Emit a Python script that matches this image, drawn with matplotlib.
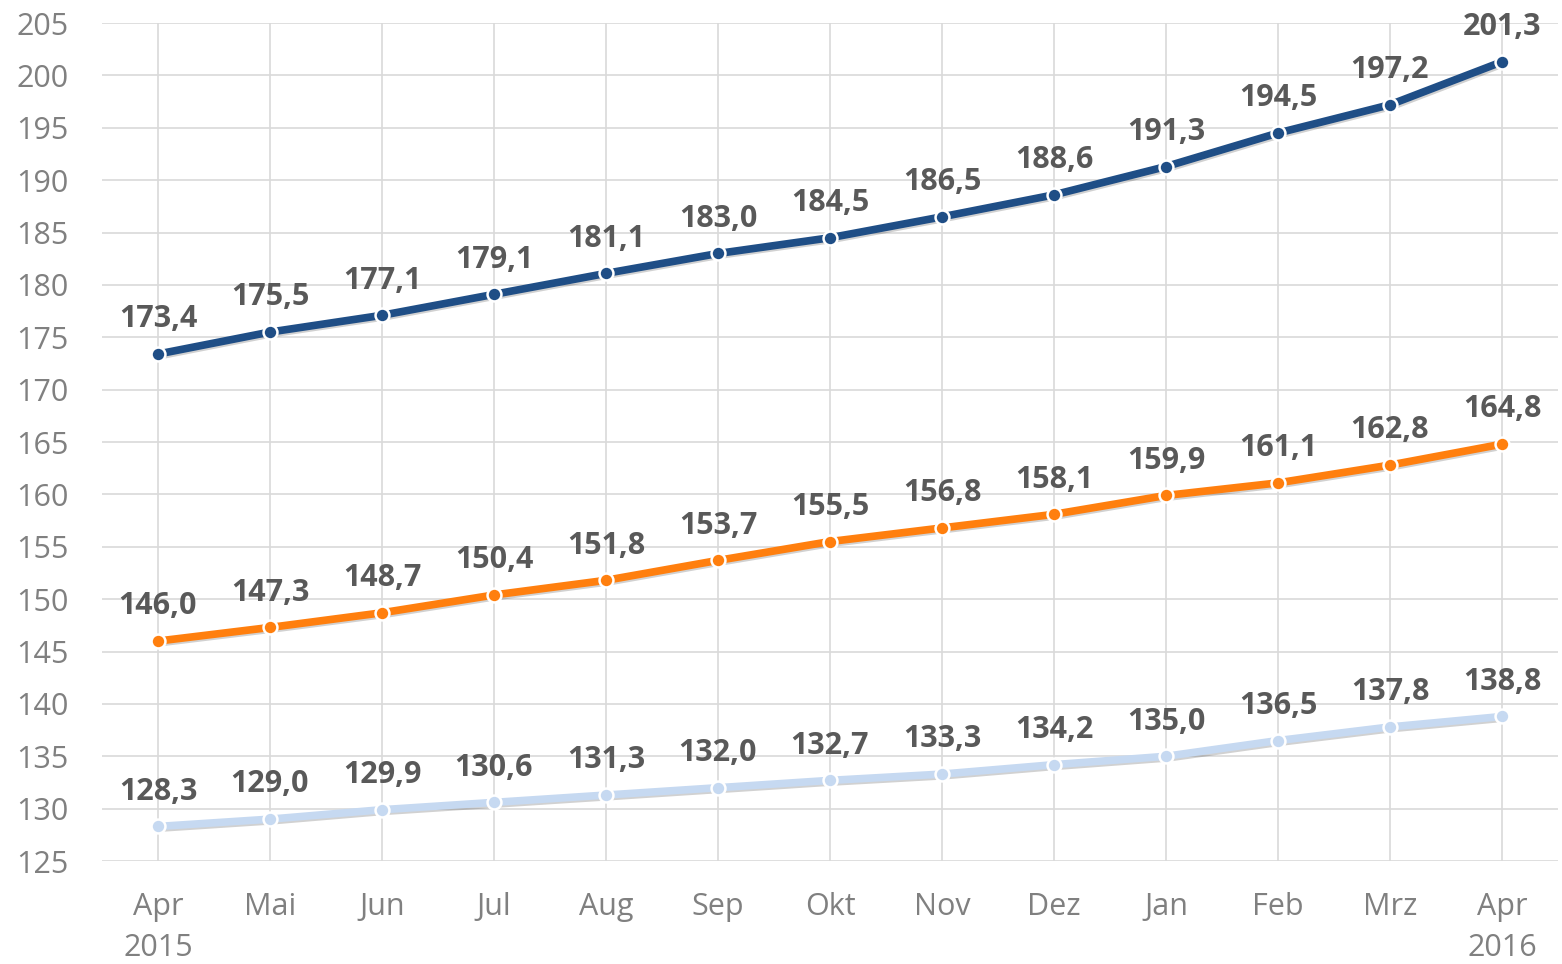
import matplotlib.pyplot as plt
import matplotlib.patheffects as pe

plt.rcParams['font.family'] = ['Open Sans', 'DejaVu Sans']

months = ["Apr\n2015", "Mai", "Jun", "Jul", "Aug", "Sep", "Okt", "Nov", "Dez",
          "Jan", "Feb", "Mrz", "Apr\n2016"]

top = [173.4, 175.5, 177.1, 179.1, 181.1, 183.0, 184.5, 186.5, 188.6,
       191.3, 194.5, 197.2, 201.3]
mid = [146.0, 147.3, 148.7, 150.4, 151.8, 153.7, 155.5, 156.8, 158.1,
       159.9, 161.1, 162.8, 164.8]
low = [128.3, 129.0, 129.9, 130.6, 131.3, 132.0, 132.7, 133.3, 134.2,
       135.0, 136.5, 137.8, 138.8]

series = [(top, "#1F4E86"), (mid, "#FF7F0E"), (low, "#C6D9F1")]

fig = plt.figure(figsize=(15.62, 9.64), dpi=100)
ax = fig.add_axes([0.0653, 0.1068, 0.9321, 0.8693])

x = list(range(len(months)))
shadow = [pe.SimpleLineShadow(offset=(1.2, -1.2), alpha=0.18), pe.Normal()]

for vals, col in series:
    ax.plot(x, vals, color=col, lw=5.5, solid_capstyle='round', zorder=3,
            path_effects=shadow)
    ax.plot(x, vals, 'o', color=col, ms=10, mec='white', mew=1.8, zorder=4)
    for xi, v in zip(x, vals):
        ax.annotate(f"{v:.1f}".replace('.', ','), (xi, v), xytext=(0, 25),
                    textcoords='offset points', ha='center', va='center',
                    fontsize=22, fontweight='bold', color='#595959', zorder=5)

ax.set_xlim(-0.5, 12.5)
ax.set_ylim(125, 205)
ax.set_yticks(range(125, 206, 5))
ax.set_xticks(x)
ax.set_xticklabels(months, linespacing=1.5)
ax.grid(True, color='#D9D9D9', lw=1.2, zorder=0)
ax.set_axisbelow(True)
for s in ax.spines.values():
    s.set_visible(False)
ax.tick_params(length=0, labelsize=22, labelcolor='#808080')
ax.tick_params(axis='y', pad=24)
ax.tick_params(axis='x', pad=22)

fig.savefig("out.png", dpi=100)
